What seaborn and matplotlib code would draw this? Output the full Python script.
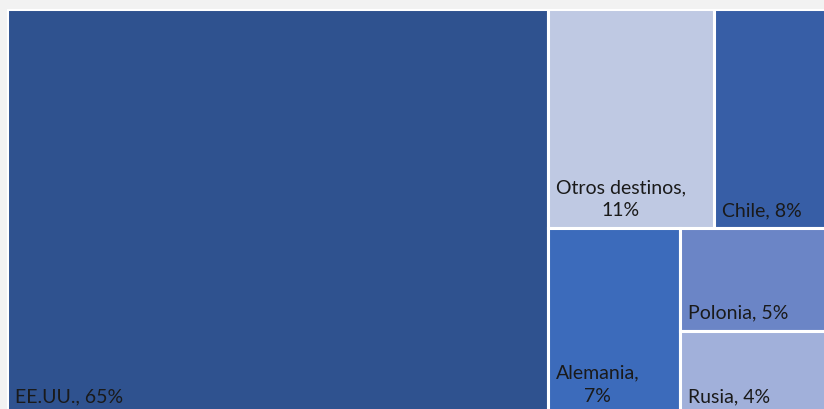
import matplotlib
matplotlib.use('Agg')
import matplotlib.pyplot as plt
from matplotlib.patches import Rectangle
import seaborn as sns

# Destinos y participacion (%)
destinos = ['EE.UU.', 'Otros destinos', 'Chile', 'Alemania', 'Polonia', 'Rusia']
participacion = [65.0, 10.8, 8.1, 7.3, 4.8, 3.9]
colores = ['#2F528F', '#BFC9E3', '#375EA6', '#3C6BBB', '#6B85C6', '#A1B0DA']
# texto de cada etiqueta (con salto de linea donde el recuadro es angosto)
etiquetas = ['EE.UU., 65%', 'Otros destinos,\n11%', 'Chile, 8%',
             'Alemania,\n7%', 'Polonia, 5%', 'Rusia, 4%']

sns.set_style('white')
plt.rcParams['font.family'] = ['Lato', 'DejaVu Sans']


# squarified treemap (Bruls et al.)
def worst(row, w):
    s = sum(row)
    return max(max(w * w * r / (s * s), (s * s) / (w * w * r)) for r in row)


def layout_row(row, x, y, dx, dy):
    s = sum(row)
    rects = []
    if dx >= dy:
        # columna a la izquierda
        ancho = s / dy
        yy = y
        for r in row:
            h = r / ancho
            rects.append((x, yy, ancho, h))
            yy += h
        return rects, (x + ancho, y, dx - ancho, dy)
    else:
        # fila arriba
        alto = s / dx
        xx = x
        for r in row:
            w = r / alto
            rects.append((xx, y, w, alto))
            xx += w
        return rects, (x, y + alto, dx, dy - alto)


def squarify(valores, x, y, dx, dy):
    total = sum(valores)
    areas = [v * dx * dy / total for v in valores]
    rects = []
    fila = []
    i = 0
    while i < len(areas):
        lado = min(dx, dy)
        if not fila or worst(fila + [areas[i]], lado) <= worst(fila, lado):
            fila.append(areas[i])
            i += 1
        else:
            r, (x, y, dx, dy) = layout_row(fila, x, y, dx, dy)
            rects += r
            fila = []
    if fila:
        r, _ = layout_row(fila, x, y, dx, dy)
        rects += r
    return rects


W, H = 831, 405
rects = squarify(participacion, 0, 0, W, H)

fig = plt.figure(figsize=(8.24, 4.10), dpi=100)
fig.patch.set_facecolor('#F2F2F2')
ax = fig.add_axes([7 / 824, (410 - 415) / 410, W / 824, H / 410])
ax.set_xlim(0, W)
ax.set_ylim(H, 0)  # y hacia abajo, como en la imagen
ax.axis('off')

for (x, y, w, h), c, lab in zip(rects, colores, etiquetas):
    ax.add_patch(Rectangle((x, y), w, h, facecolor=c, edgecolor='white',
                           linewidth=2.2))
    ax.text(x + 8, y + h - 10, lab, ha='left', va='bottom',
            multialignment='center', fontsize=14, color='#1a1a1a',
            linespacing=1.45)

plt.savefig('out.png', dpi=100, facecolor=fig.get_facecolor())
